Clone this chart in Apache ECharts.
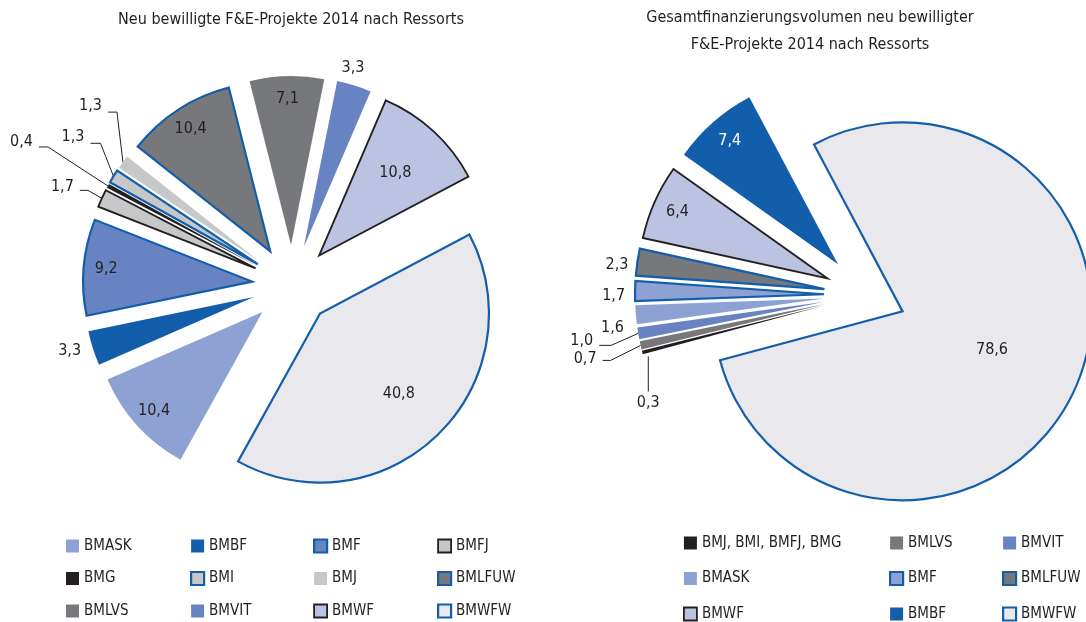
<!DOCTYPE html>
<html>
<head>
<meta charset="utf-8">
<script src="https://cdn.jsdelivr.net/npm/echarts@6/dist/echarts.min.js"></script>
<style>
  html, body { margin: 0; padding: 0; background: #ffffff; }
  #chart { width: 1086px; height: 622px; }
</style>
</head>
<body>
<div id="chart"></div>
<script>
// Neu bewilligte F&E-Projekte 2014, Anteile je Ressort in %
const projectNames  = ['BMASK', 'BMBF', 'BMF', 'BMFJ', 'BMG', 'BMI', 'BMJ', 'BMLFUW', 'BMLVS', 'BMVIT', 'BMWF', 'BMWFW'];
const projectShares = [10.4, 3.3, 9.2, 1.7, 0.4, 1.3, 1.3, 10.4, 7.1, 3.3, 10.8, 40.8];

// Gesamtfinanzierungsvolumen 2014, Anteile je Ressort in %
const volumeNames  = ['BMJ, BMI, BMFJ, BMG', 'BMLVS', 'BMVIT', 'BMASK', 'BMF', 'BMLFUW', 'BMWF', 'BMBF', 'BMWFW'];
const volumeShares = [0.3, 0.7, 1.0, 1.6, 1.7, 2.3, 6.4, 7.4, 78.6];

const titleLeft  = 'Neu bewilligte F&E-Projekte 2014 nach Ressorts';
const titleRight = 'Gesamtfinanzierungsvolumen neu bewilligter\nF&E-Projekte 2014 nach Ressorts';

// legend columns (top to bottom)
const legendColsLeft = [
  ['BMASK', 'BMG', 'BMLVS'],
  ['BMBF', 'BMI', 'BMVIT'],
  ['BMF', 'BMJ', 'BMWF'],
  ['BMFJ', 'BMLFUW', 'BMWFW']
];
const legendColsRight = [
  ['BMJ, BMI, BMFJ, BMG', 'BMASK', 'BMWF'],
  ['BMLVS', 'BMF', 'BMBF'],
  ['BMVIT', 'BMLFUW', 'BMWFW']
];

// ---- styling ----
const FONT = "'Liberation Sans Narrow', 'DejaVu Sans Condensed', 'Roboto Condensed', 'Arial Narrow', sans-serif";
const INK = '#231F20';
const EDGE = '#135EAB';
const C_LIGHTBLUE = '#8DA1D3';
const C_DARKBLUE = '#135EAB';
const C_MIDBLUE = '#6883C2';
const C_LIGHTGREY = '#C6C7C9';
const C_DARKGREY = '#77787B';
const C_LAVENDER = '#BCC3E2';
const C_PALE = '#E9E9ED';

const blueEdge = { borderColor: EDGE, borderWidth: 2.2 };
const inkEdge = { borderColor: INK, borderWidth: 1.8 };

const stylesLeft = {
  'BMASK':  { color: C_LIGHTBLUE },
  'BMBF':   { color: C_DARKBLUE },
  'BMF':    Object.assign({ color: C_MIDBLUE }, blueEdge),
  'BMFJ':   Object.assign({ color: C_LIGHTGREY }, inkEdge),
  'BMG':    { color: INK },
  'BMI':    Object.assign({ color: C_LIGHTGREY }, blueEdge),
  'BMJ':    { color: C_LIGHTGREY },
  'BMLFUW': Object.assign({ color: C_DARKGREY }, blueEdge),
  'BMLVS':  { color: C_DARKGREY },
  'BMVIT':  { color: C_MIDBLUE },
  'BMWF':   Object.assign({ color: C_LAVENDER }, inkEdge),
  'BMWFW':  Object.assign({ color: C_PALE }, blueEdge)
};
const stylesRight = {
  'BMJ, BMI, BMFJ, BMG': { color: INK },
  'BMLVS':  { color: C_DARKGREY },
  'BMVIT':  { color: C_MIDBLUE },
  'BMASK':  { color: C_LIGHTBLUE },
  'BMF':    Object.assign({ color: C_LIGHTBLUE }, blueEdge),
  'BMLFUW': Object.assign({ color: C_DARKGREY }, blueEdge),
  'BMWF':   Object.assign({ color: C_LAVENDER }, inkEdge),
  'BMBF':   { color: C_DARKBLUE },
  'BMWFW':  Object.assign({ color: C_PALE }, blueEdge)
};

// outside labels: `len` is the radial lead-out, `shift` nudges a label
// without a leader line, `bend`/`run`/`lift` route a leader line
// (bend relative to the slice edge, horizontal run, text lift),
// `drop` hangs a vertical leader below the slice
const calloutsLeft = {
  'BMVIT': { len: 15, shift: [-23, -3] },
  'BMBF':  { len: 6, shift: [0, 1] },
  'BMJ':   { bend: [-6, -50], run: 9, lift: -6 },
  'BMI':   { bend: [-13, -33], run: 10, lift: -6 },
  'BMG':   { bend: [-60, -39], run: 9, lift: -5 },
  'BMFJ':  { bend: [-14, -8], run: 8, lift: -3 }
};
const calloutsRight = {
  'BMLFUW': { len: 3, shift: [0, 3] },
  'BMF':    { len: 3, shift: [-1, 5] },
  'BMASK':  { len: 3, shift: [-3, 13] },
  'BMVIT':  { bend: [-27, 12], run: 12, lift: -5 },
  'BMLVS':  { bend: [-30, 15], run: 8, lift: -2 },
  'BMJ, BMI, BMFJ, BMG': { drop: [6, 4, 35] }
};

const fmt = p => p.value.toFixed(1).replace('.', ',');
const labelFont = { fontFamily: FONT, fontSize: 16, color: INK };
const clear = { color: 'rgba(0,0,0,0)', borderWidth: 0 };

function calloutLayout(cfg) {
  return function (params) {
    const c = cfg.callouts[cfg.names[params.dataIndex]];
    if (!c) return {};
    const rect = params.labelRect;
    if (c.shift) {
      const onLeft = rect.x + rect.width / 2 < cfg.center[0];
      return {
        x: (onLeft ? rect.x + rect.width : rect.x) + c.shift[0],
        y: rect.y + rect.height / 2 + c.shift[1],
        align: onLeft ? 'right' : 'left',
        verticalAlign: 'middle'
      };
    }
    const pts = params.labelLinePoints;
    if (!pts) return {};
    const p1 = pts[0];
    if (c.drop) {
      const s = [p1[0] + c.drop[0], p1[1] + c.drop[1]];
      const e = [s[0], s[1] + c.drop[2]];
      return { x: e[0], y: e[1] + 3, align: 'center', verticalAlign: 'top', labelLinePoints: [s, e, e] };
    }
    const bend = [p1[0] + c.bend[0], p1[1] + c.bend[1]];
    const end = [bend[0] - c.run, bend[1]];
    return {
      x: end[0] - 6, y: end[1] + c.lift,
      align: 'right', verticalAlign: 'middle',
      labelLinePoints: [p1, bend, end]
    };
  };
}

// one exploded pie: the visible (pulled-out) slices, invisible rings that
// carry the inside labels at a chosen depth, and an invisible outer disc
// whose edge meets the pulled-out slices and carries the outside labels
function explodedPie(cfg) {
  const common = {
    type: 'pie',
    center: cfg.center,
    startAngle: cfg.startAngle,
    clockwise: true,
    animation: false,
    emphasis: { disabled: true },
    silent: true
  };
  const pulled = { selectedMode: 'multiple', selectedOffset: cfg.offset };

  const main = Object.assign({}, common, pulled, {
    name: cfg.id,
    radius: [0, cfg.radius],
    label: Object.assign({ show: false, position: 'inside', formatter: fmt }, labelFont),
    labelLine: { show: false },
    data: cfg.names.map((n, i) => ({
      name: n, value: cfg.values[i], selected: true,
      itemStyle: Object.assign({ borderJoin: 'miter' }, cfg.styles[n]),
      label: { show: cfg.insideCentre.includes(n) }
    }))
  });

  const rings = cfg.rings.map(r => Object.assign({}, common, pulled, {
    name: cfg.id + '-ring-' + r.inner,
    radius: [r.inner, cfg.radius],
    itemStyle: clear,
    label: Object.assign({ show: true, position: 'inside', formatter: fmt }, labelFont),
    labelLine: { show: false },
    data: cfg.names.map((n, i) => ({
      name: n, value: cfg.values[i], selected: true,
      label: { show: r.names.includes(n), color: (r.white || []).includes(n) ? '#ffffff' : INK }
    }))
  }));

  const outer = Object.assign({}, common, {
    name: cfg.id + '-callouts',
    radius: [0, cfg.radius + cfg.offset],
    avoidLabelOverlap: false,
    itemStyle: clear,
    label: Object.assign({ show: true, position: 'outside', formatter: fmt, distanceToLabelLine: 6 }, labelFont),
    labelLine: { show: true, length: 0, length2: 0, smooth: false,
                 lineStyle: { color: INK, width: 1 } },
    labelLayout: calloutLayout(cfg),
    data: cfg.names.map((n, i) => {
      const c = cfg.callouts[n];
      return {
        name: n, value: cfg.values[i],
        label: { show: !!c },
        labelLine: { show: !!c && !c.shift, length: (c && c.len) || 0, length2: 0 }
      };
    })
  });

  return [main].concat(rings, [outer]);
}

const series = [].concat(
  explodedPie({
    id: 'projekte', names: projectNames, values: projectShares, styles: stylesLeft,
    center: [292, 285], radius: 169, startAngle: 241, offset: 40,
    insideCentre: [],
    callouts: calloutsLeft,
    rings: [
      { inner: 118, names: ['BMASK', 'BMF', 'BMLFUW', 'BMLVS'] },
      { inner: 50, names: ['BMWF', 'BMWFW'] }
    ]
  }),
  explodedPie({
    id: 'volumen', names: volumeNames, values: volumeShares, styles: stylesRight,
    center: [865, 295], radius: 189, startAngle: 195, offset: 41,
    insideCentre: ['BMWFW'],
    callouts: calloutsRight,
    rings: [
      { inner: 133, names: ['BMBF', 'BMWF'], white: ['BMBF'] }
    ]
  })
);

function legendColumn(names, left, top, gap, styles) {
  return {
    orient: 'vertical', left: left, top: top, height: 120, padding: 0,
    itemWidth: 13, itemHeight: 13, itemGap: gap, icon: 'rect',
    selectedMode: false,
    textStyle: { fontFamily: FONT, fontSize: 15, color: INK, lineHeight: 16 },
    data: names.map(n => ({ name: n, itemStyle: Object.assign({}, styles[n]) }))
  };
}

const legendLeftX = [66, 190, 313, 437];
const legendRightX = [683, 889, 1002];

const option = {
  backgroundColor: '#ffffff',
  title: [
    { text: titleLeft, left: 291, top: 12, padding: 0, textAlign: 'center',
      textStyle: { fontFamily: FONT, fontSize: 16, fontWeight: 'normal', color: INK } },
    { text: titleRight, left: 810, top: 4, padding: 0, textAlign: 'center',
      textStyle: { fontFamily: FONT, fontSize: 16, fontWeight: 'normal', color: INK, lineHeight: 27 } }
  ],
  legend: [].concat(
    legendColsLeft.map((c, i) => legendColumn(c, legendLeftX[i], 538, 16.5, stylesLeft)),
    legendColsRight.map((c, i) => legendColumn(c, legendRightX[i], 535, 19.5, stylesRight))
  ),
  series: series
};

const chart = echarts.init(document.getElementById('chart'), null, { renderer: 'canvas' });
chart.setOption(option);
</script>
</body>
</html>
